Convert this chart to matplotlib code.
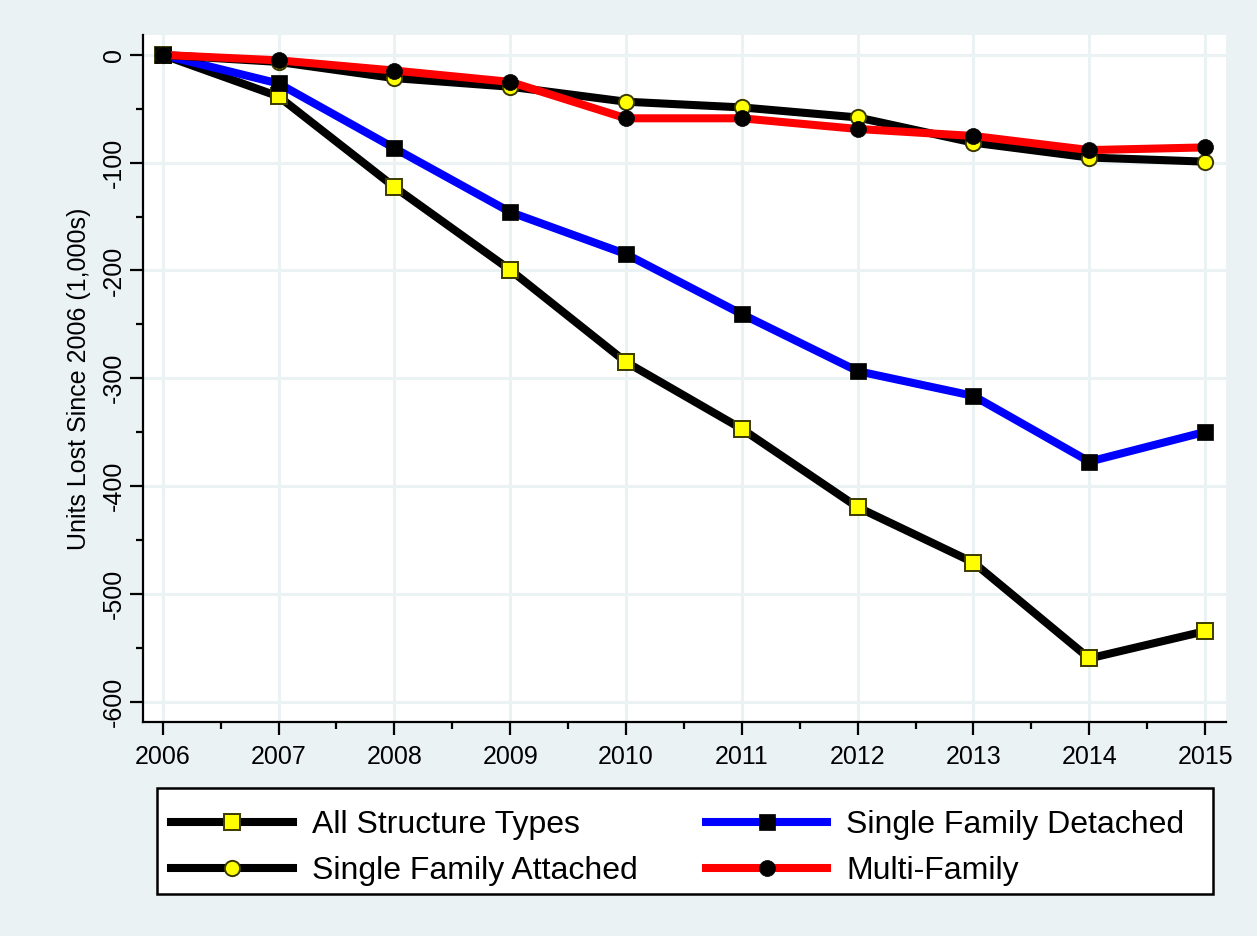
import matplotlib
matplotlib.use("Agg")
import matplotlib.pyplot as plt
from matplotlib.patches import Rectangle
from matplotlib.ticker import MultipleLocator

years = [2006, 2007, 2008, 2009, 2010, 2011, 2012, 2013, 2014, 2015]

all_structure = [0, -38.5, -122.5, -199.5, -285, -347, -419.7, -471, -560, -534.7]
sf_detached = [0, -26.5, -86.5, -145.8, -184.8, -240.5, -293.4, -316.4, -377.4, -349.8]
sf_attached = [0, -6.5, -21.5, -29.5, -43.4, -48.7, -58.0, -81.4, -95.2, -99.0]
multi_family = [0, -5.0, -14.5, -25.0, -58.8, -58.8, -68.7, -75.2, -88.3, -85.8]

labels = ["All Structure Types", "Single Family Detached",
          "Single Family Attached", "Multi-Family"]

BG = "#EAF2F3"
plt.rcParams["font.family"] = ["Liberation Sans", "DejaVu Sans"]

W, H = 1257, 936
fig = plt.figure(figsize=(W / 100, H / 100), dpi=100, facecolor=BG)
ax = fig.add_axes([143 / W, 1 - 722 / H, (1226 - 143) / W, (722 - 35) / H])
ax.set_facecolor("white")

lw = 5.8
edge_y = "#3a3a00"
h1, = ax.plot(years, all_structure, color="black", lw=lw, marker="s", ms=11,
              mfc="#FFFF00", mec=edge_y, mew=1.4, zorder=3)
h2, = ax.plot(years, sf_detached, color="#0000FF", lw=lw, marker="s", ms=11.5,
              mfc="black", mec="black", mew=0.5, zorder=4)
h3, = ax.plot(years, sf_attached, color="black", lw=lw, marker="o", ms=11,
              mfc="#FFFF00", mec=edge_y, mew=1.4, zorder=5)
h4, = ax.plot(years, multi_family, color="#FF0000", lw=lw, marker="o", ms=11.5,
              mfc="black", mec="black", mew=0.5, zorder=6)

ax.set_xlim(2005.83, 2015.18)
ax.set_ylim(-619, 18.5)
ax.set_xticks(years)
ax.set_yticks(range(-600, 1, 100))
ax.xaxis.set_minor_locator(MultipleLocator(0.5))
ax.yaxis.set_minor_locator(MultipleLocator(50))

ax.grid(True, which="major", color=BG, lw=2.2, zorder=0)
ax.set_axisbelow(True)

for s in ["top", "right"]:
    ax.spines[s].set_visible(False)
for s in ["left", "bottom"]:
    ax.spines[s].set_linewidth(1.6)
    ax.spines[s].set_color("black")

ax.tick_params(axis="both", which="major", length=9.5, width=1.6, labelsize=18)
ax.tick_params(axis="x", which="major", pad=7)
ax.tick_params(axis="y", which="major", pad=3)
ax.tick_params(axis="both", which="minor", length=5, width=1.6)
ax.set_yticklabels([str(v) for v in range(-600, 1, 100)], rotation=90, va="center")

ax.set_ylabel("Units Lost Since 2006 (1,000s)", fontsize=18, labelpad=8)

# legend frame drawn as a figure-level box
fig.patches.append(Rectangle((157 / W, 1 - 894 / H), (1213 - 157) / W, (894 - 788) / H,
                             transform=fig.transFigure, facecolor="white",
                             edgecolor="black", lw=1.8, zorder=1))

# matplotlib fills legend columns first; order so rows read All/SFD, Attached/Multi
handles = [h1, h3, h2, h4]
leg_labels = [labels[0], labels[2], labels[1], labels[3]]
leg = fig.legend(handles, leg_labels, ncol=2,
                 loc="upper left",
                 bbox_to_anchor=(157 / W, 1 - 796 / H, (1199 - 157) / W, 0.0),
                 mode="expand", fontsize=23, handlelength=3.8, handletextpad=0.6,
                 borderaxespad=0, borderpad=0.45, labelspacing=0.48,
                 frameon=False)
leg.set_zorder(2)

fig.savefig("out.png", dpi=100, facecolor=BG)
